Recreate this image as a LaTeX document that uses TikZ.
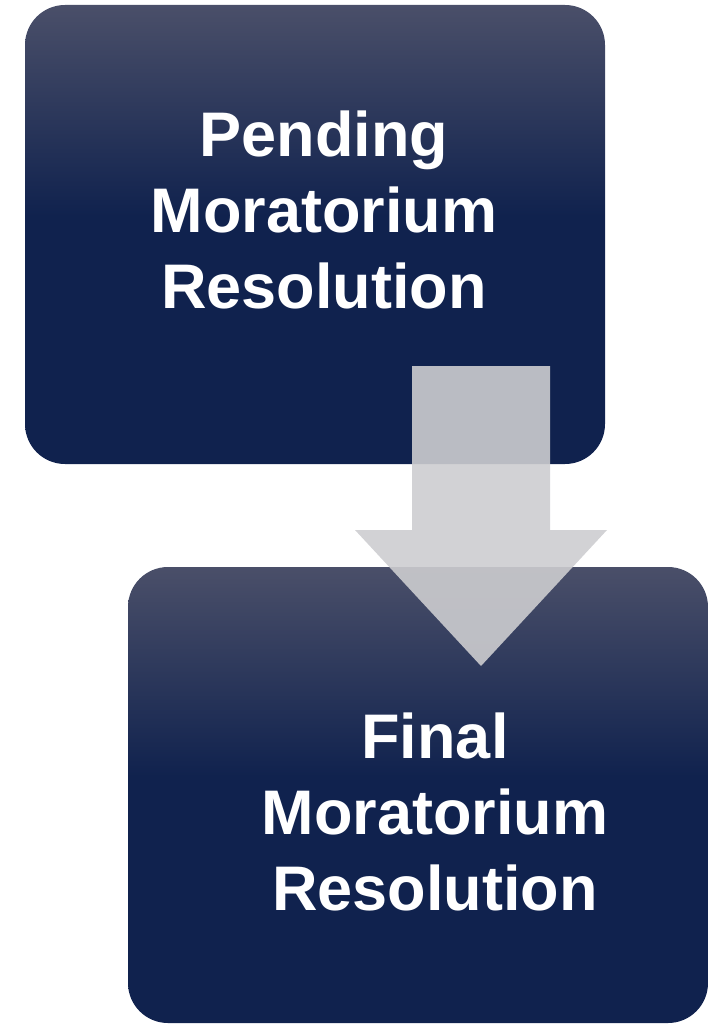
\documentclass[tikz,border=0pt]{standalone}
\usepackage{fontspec}
\setmainfont{Liberation Sans}
\definecolor{navy}{RGB}{16,34,78}
\definecolor{topgray}{RGB}{74,79,105}
\definecolor{arrowgray}{RGB}{205,205,208}
\pgfdeclareverticalshading{boxshade}{100bp}{color(0bp)=(navy); color(52bp)=(navy); color(75bp)=(topgray); color(100bp)=(topgray)}
\tikzset{
  stagebox/.style={rectangle, rounded corners=40pt, inner sep=0pt, shading=boxshade, minimum width=580pt},
  stagetext/.style={text=white, align=center, font=\fontsize{63}{76}\selectfont\bfseries},
  flowarrow/.style={fill=arrowgray, fill opacity=0.9, draw=none}
}
\begin{document}
\begin{tikzpicture}[x=1pt,y=-1pt]
\useasboundingbox (0,0) rectangle (723,1024);
\node[stagebox, minimum height=459pt] (box1) at (315,234.5) {};
\node[stagebox, minimum height=456pt] (box2) at (418,795) {};
\node[stagetext] (t1) at (324,210) {Pending\\Moratorium\\Resolution};
\node[stagetext] (t2) at (435,812) {Final\\Moratorium\\Resolution};
\path[flowarrow] (412,366) -- (550,366) -- (550,530) -- (607,530) -- (481,666) -- (355,530) -- (412,530) -- cycle;
\end{tikzpicture}
\end{document}
